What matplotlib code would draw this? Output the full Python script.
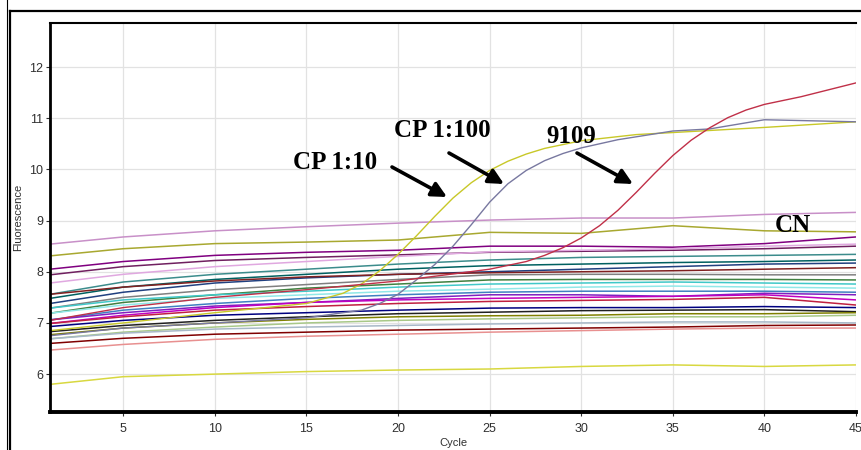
import matplotlib
matplotlib.use("Agg")
import matplotlib.pyplot as plt
from matplotlib.lines import Line2D

# ---------------- data ----------------
base_cycles = [1, 5, 10, 15, 20, 25, 30, 35, 40, 45]

baseline_colors = [
    "#c890c8", "#a8a830", "#800080", "#702060", "#e0a8e0", "#3c8c8c",
    "#006060", "#204080", "#802020", "#808080", "#408040", "#40c8c8",
    "#90e8e8", "#4080c0", "#8020c0", "#c000c0", "#c02040", "#000080",
    "#202020", "#808000", "#a8c888", "#a8b8c8", "#800000", "#e89090",
    "#d8d840",
]
baseline_values = [
    [8.54, 8.68, 8.80, 8.88, 8.95, 9.01, 9.05, 9.05, 9.12, 9.16],
    [8.31, 8.45, 8.55, 8.58, 8.62, 8.77, 8.75, 8.90, 8.80, 8.78],
    [8.05, 8.20, 8.32, 8.38, 8.42, 8.50, 8.50, 8.48, 8.55, 8.68],
    [7.94, 8.10, 8.22, 8.28, 8.33, 8.38, 8.40, 8.42, 8.45, 8.50],
    [7.78, 7.95, 8.10, 8.20, 8.30, 8.39, 8.42, 8.45, 8.50, 8.54],
    [7.56, 7.80, 7.95, 8.05, 8.15, 8.23, 8.28, 8.30, 8.32, 8.34],
    [7.48, 7.70, 7.85, 7.95, 8.05, 8.12, 8.15, 8.18, 8.20, 8.23],
    [7.38, 7.60, 7.78, 7.88, 7.95, 8.00, 8.05, 8.10, 8.15, 8.17],
    [7.56, 7.70, 7.82, 7.90, 7.95, 7.98, 8.00, 8.02, 8.05, 8.08],
    [7.29, 7.50, 7.65, 7.75, 7.85, 7.94, 7.95, 7.95, 7.94, 7.94],
    [7.19, 7.40, 7.55, 7.68, 7.76, 7.84, 7.85, 7.85, 7.85, 7.84],
    [7.29, 7.45, 7.55, 7.62, 7.70, 7.76, 7.78, 7.80, 7.78, 7.76],
    [7.19, 7.35, 7.48, 7.55, 7.62, 7.66, 7.70, 7.72, 7.70, 7.68],
    [7.06, 7.25, 7.38, 7.48, 7.55, 7.60, 7.62, 7.62, 7.62, 7.60],
    [7.06, 7.20, 7.33, 7.40, 7.48, 7.55, 7.55, 7.52, 7.58, 7.55],
    [6.99, 7.15, 7.30, 7.40, 7.45, 7.48, 7.50, 7.52, 7.55, 7.45],
    [6.99, 7.12, 7.25, 7.32, 7.38, 7.42, 7.44, 7.46, 7.50, 7.35],
    [6.93, 7.05, 7.15, 7.20, 7.25, 7.29, 7.30, 7.30, 7.32, 7.30],
    [6.83, 6.95, 7.05, 7.12, 7.18, 7.21, 7.24, 7.25, 7.26, 7.22],
    [6.77, 6.90, 7.00, 7.07, 7.12, 7.14, 7.15, 7.18, 7.18, 7.20],
    [6.69, 6.82, 6.92, 7.00, 7.05, 7.08, 7.10, 7.12, 7.12, 7.15],
    [6.69, 6.80, 6.88, 6.92, 6.95, 6.98, 7.00, 7.02, 7.02, 7.00],
    [6.60, 6.70, 6.78, 6.82, 6.86, 6.88, 6.90, 6.92, 6.95, 6.96],
    [6.47, 6.58, 6.68, 6.74, 6.78, 6.82, 6.85, 6.88, 6.90, 6.90],
    [5.80, 5.95, 6.00, 6.05, 6.08, 6.10, 6.15, 6.18, 6.15, 6.18],
]

cp10_cycles = [1, 5, 10, 15, 17, 18, 19, 20, 21, 22, 23, 24, 25, 26, 27, 28, 30, 33, 36, 40, 45]
cp10_values = [6.85, 7.00, 7.20, 7.38, 7.58, 7.76, 8.02, 8.34, 8.70, 9.08, 9.44, 9.74, 9.98,
               10.16, 10.30, 10.41, 10.56, 10.68, 10.74, 10.82, 10.93]

cp100_cycles = [1, 5, 10, 15, 18, 19, 20, 21, 22, 23, 24, 25, 26, 27, 28, 29, 30, 32, 35, 37, 40, 45]
cp100_values = [6.75, 6.90, 7.00, 7.10, 7.25, 7.38, 7.56, 7.84, 8.14, 8.50, 8.92, 9.36, 9.72,
                9.98, 10.17, 10.31, 10.42, 10.58, 10.75, 10.79, 10.97, 10.93]

s9109_cycles = [1, 5, 10, 15, 20, 25, 27, 28, 29, 30, 31, 32, 33, 34, 35, 36, 37, 38, 39, 40, 42, 45]
s9109_values = [7.05, 7.30, 7.50, 7.65, 7.82, 8.05, 8.20, 8.32, 8.47, 8.66, 8.90, 9.20,
                9.55, 9.92, 10.27, 10.57, 10.81, 11.01, 11.16, 11.27, 11.42, 11.69]

x_ticks = [5, 10, 15, 20, 25, 30, 35, 40, 45]
y_ticks = [6, 7, 8, 9, 10, 11, 12]

# ---------------- figure ----------------
W, H = 862, 450
fig = plt.figure(figsize=(W / 100, H / 100), dpi=100)
fig.patch.set_facecolor("white")

L, R, T, B = 50, 856, 22.5, 412
ax = fig.add_axes([L / W, (H - B) / H, (R - L) / W, (B - T) / H])

for vals, col in zip(baseline_values, baseline_colors):
    ax.plot(base_cycles, vals, color=col, lw=1.1)

ax.plot(cp10_cycles, cp10_values, color="#c8c828", lw=1.0)
ax.plot(cp100_cycles, cp100_values, color="#7878a0", lw=1.0)
ax.plot(s9109_cycles, s9109_values, color="#c03048", lw=1.0)

ax.set_xlim(1, 45)
ax.set_ylim(5.26, 12.87)
ax.set_xticks(x_ticks)
ax.set_yticks(y_ticks)
ax.grid(True, color="#e2e2e2", lw=0.9)
ax.set_axisbelow(True)
ax.tick_params(axis="both", labelsize=9, colors="#303030", length=3, width=0.8,
               direction="out")
ax.tick_params(axis="x", pad=5)
ax.tick_params(axis="y", pad=2)
for lab in ax.get_xticklabels() + ax.get_yticklabels():
    lab.set_fontfamily("Liberation Sans")
ax.set_xlabel("Cycle", fontsize=8, color="#303030", labelpad=2, family="Liberation Sans")
ax.set_ylabel("Fluorescence", fontsize=8, color="#303030", labelpad=4, family="Liberation Sans")
ax.spines["left"].set_linewidth(2.0)
ax.spines["bottom"].set_linewidth(2.8)
ax.spines["top"].set_linewidth(1.5)
ax.spines["right"].set_visible(False)

# outer frame
fig.add_artist(Line2D([7.3 / W, 7.3 / W], [0, 1], transform=fig.transFigure, color="black", lw=0.8))
fig.add_artist(Line2D([10 / W, 10 / W], [0, (H - 11) / H], transform=fig.transFigure, color="black", lw=1.6))
fig.add_artist(Line2D([10 / W, 1], [(H - 11) / H, (H - 11) / H], transform=fig.transFigure, color="black", lw=1.6))

# annotations (figure pixels, origin bottom-left)
def fp(x, y):
    return (x, H - y)

font = dict(family="Liberation Serif", weight="bold", size=18, color="black")
fig.text(293 / W, (H - 169) / H, "CP 1:10", **font)
fig.text(394 / W, (H - 137) / H, "CP 1:100", **font)
fig.text(546 / W, (H - 143) / H, "9109", **font)
fig.text(775 / W, (H - 232) / H, "CN", **font)

arrow = dict(arrowstyle="-|>,head_length=0.9,head_width=0.45", color="black", lw=2.6,
             shrinkA=0, shrinkB=0)
for tail, tip in [((392, 167), (447, 197)), ((449, 153), (504, 184)), ((577, 153), (633, 184))]:
    ax.annotate("", xy=fp(*tip), xycoords="figure pixels",
                xytext=fp(*tail), textcoords="figure pixels", arrowprops=arrow)

fig.savefig("out.png", dpi=100)
